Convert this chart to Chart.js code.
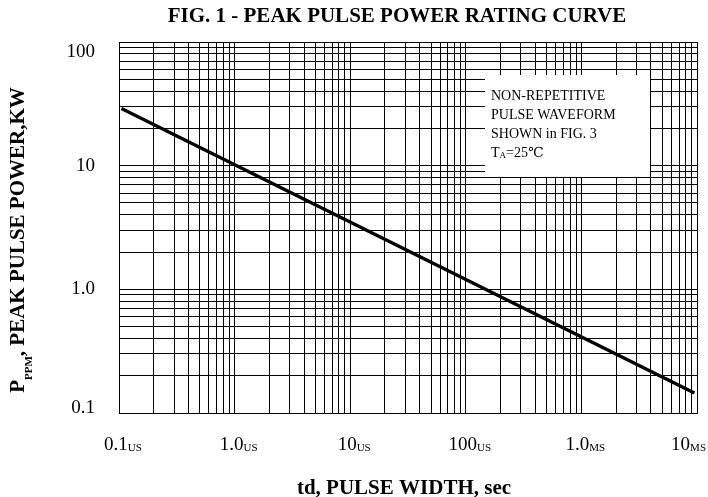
<!DOCTYPE html>
<html>
<head>
<meta charset="utf-8">
<title>FIG. 1 - Peak Pulse Power Rating Curve</title>
<script src="https://cdn.jsdelivr.net/npm/chart.js@4.4.1/dist/chart.umd.min.js"></script>
<style>
    html, body { margin: 0; padding: 0; background: #fff; }
    #wrap { width: 708px; height: 497px; }
</style>
</head>
<body>
<div id="wrap"><canvas id="chart" width="708" height="497"></canvas></div>
<script>
// pulse width (s) vs peak pulse power (kW)
const pulseWidth = [1.05e-7, 9.5e-3];
const peakPower = [29, 0.145];

const xTickValues = [1e-7, 1e-6, 1e-5, 1e-4, 1e-3, 1e-2];
const xTickNumbers = ['0.1', '1.0', '10', '100', '1.0', '10'];
const xTickUnits = ['US', 'US', 'US', 'US', 'MS', 'MS'];

const yTickValues = [100, 10, 1, 0.1];
const yTickLabels = ['100', '10', '1.0', '0.1'];

const noteLines = ['NON-REPETITIVE', 'PULSE WAVEFORM', 'SHOWN in FIG. 3'];

const SERIF = '"Liberation Serif", "Times New Roman", "DejaVu Serif", serif';

// 1..9 x 10^n grid lines for every decade of the axis
function logGrid(min, max) {
    const ticks = [];
    const e0 = Math.floor(Math.log10(min) + 1e-9);
    const e1 = Math.round(Math.log10(max));
    for (let e = e0; e <= e1; e++) {
        for (let m = 1; m <= 9; m++) {
            const v = parseFloat((m * Math.pow(10, e)).toPrecision(6));
            if (v >= min * 0.9999 && v <= max * 1.0001) ticks.push({ value: v });
        }
    }
    return ticks;
}

// draws pieces of text (normal + subscript) one after the other
function drawParts(ctx, parts, x, y, align) {
    let total = 0;
    parts.forEach(p => { ctx.font = p.font; total += ctx.measureText(p.text).width; });
    let cx = align === 'center' ? x - total / 2 : (align === 'right' ? x - total : x);
    parts.forEach(p => {
        ctx.font = p.font;
        ctx.fillText(p.text, cx, y + (p.dy || 0));
        cx += ctx.measureText(p.text).width;
    });
    return total;
}

const paperPlugin = {
    id: 'paper',
    beforeDatasetsDraw(chart) {
        const ctx = chart.ctx;
        ctx.save();
        ctx.fillStyle = '#fff';
        ctx.fillRect(485, 75, 165, 102);
        ctx.restore();
    },
    afterDraw(chart) {
        const ctx = chart.ctx;
        const xs = chart.scales.x;
        const ys = chart.scales.y;
        const area = chart.chartArea;
        ctx.save();
        ctx.fillStyle = '#000';
        ctx.textBaseline = 'alphabetic';
        ctx.textAlign = 'left';

        // title
        drawParts(ctx, [{ text: 'FIG. 1 - PEAK PULSE POWER RATING CURVE', font: 'bold 21px ' + SERIF }], 397, 22, 'center');

        // y tick labels, kept inside the plot height
        ctx.textBaseline = 'middle';
        yTickValues.forEach((v, i) => {
            const py = Math.min(Math.max(ys.getPixelForValue(v), area.top + 10), area.bottom - 5);
            drawParts(ctx, [{ text: yTickLabels[i], font: '19px ' + SERIF }], 95, py, 'right');
        });

        // x tick labels with unit subscript
        ctx.textBaseline = 'alphabetic';
        xTickValues.forEach((v, i) => {
            const parts = [
                { text: xTickNumbers[i], font: '19px ' + SERIF },
                { text: xTickUnits[i], font: '11px ' + SERIF, dy: 1 }
            ];
            let px = xs.getPixelForValue(v) + 4;
            ctx.font = parts[0].font;
            let w = ctx.measureText(parts[0].text).width;
            ctx.font = parts[1].font;
            w += ctx.measureText(parts[1].text).width;
            px = Math.min(px, chart.width - 2 - w / 2);
            drawParts(ctx, parts, px, 450, 'center');
        });

        // x axis title
        drawParts(ctx, [{ text: 'td, PULSE WIDTH, sec', font: 'bold 21px ' + SERIF }], 404, 494, 'center');

        // y axis title, rotated
        ctx.save();
        ctx.translate(24, 240);
        ctx.rotate(-Math.PI / 2);
        drawParts(ctx, [
            { text: 'P', font: 'bold 21px ' + SERIF },
            { text: 'PPM', font: 'bold 11px ' + SERIF, dy: 7.5 },
            { text: ', PEAK PULSE POWER,KW', font: 'bold 21px ' + SERIF }
        ], 0, 0, 'center');
        ctx.restore();

        // note inside the plot
        noteLines.forEach((line, i) => {
            drawParts(ctx, [{ text: line, font: '14px ' + SERIF }], 491, 100 + i * 19, 'left');
        });
        drawParts(ctx, [
            { text: 'T', font: '14px ' + SERIF },
            { text: 'A', font: '9px ' + SERIF, dy: 1 },
            { text: '=25\u2103', font: '14px ' + SERIF }
        ], 491, 157, 'left');

        ctx.restore();
    }
};

new Chart(document.getElementById('chart'), {
    type: 'line',
    data: {
        datasets: [{
            data: pulseWidth.map((t, i) => ({ x: t, y: peakPower[i] })),
            borderColor: '#000',
            borderWidth: 3.4,
            borderCapStyle: 'butt',
            pointRadius: 0,
            fill: false,
            tension: 0
        }]
    },
    options: {
        responsive: false,
        animation: false,
        layout: { padding: { left: 119, top: 42, right: 11, bottom: 84 } },
        plugins: {
            legend: { display: false },
            tooltip: { enabled: false },
            title: { display: false }
        },
        scales: {
            x: {
                type: 'logarithmic',
                min: 1e-7,
                max: 1e-2,
                afterBuildTicks: s => { s.ticks = logGrid(1e-7, 1e-2); },
                ticks: { display: false },
                grid: { color: '#000', lineWidth: 1, drawTicks: false },
                border: { color: '#000', width: 1 }
            },
            y: {
                type: 'logarithmic',
                min: 0.1,
                max: 100,
                afterBuildTicks: s => { s.ticks = logGrid(0.1, 100); },
                ticks: { display: false },
                grid: { color: '#000', lineWidth: 1, drawTicks: false },
                border: { color: '#000', width: 1 }
            }
        }
    },
    plugins: [paperPlugin]
});
</script>
</body>
</html>
